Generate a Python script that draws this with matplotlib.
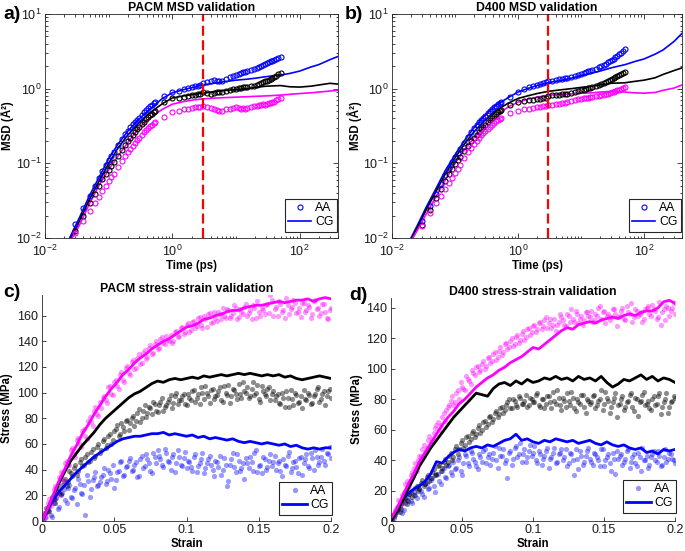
import numpy as np
import matplotlib
matplotlib.use("Agg")
import matplotlib.pyplot as plt
from matplotlib.lines import Line2D
from matplotlib.ticker import LogLocator, FixedLocator, NullFormatter, FuncFormatter

plt.rcParams['font.family'] = ['Liberation Sans', 'DejaVu Sans']
plt.rcParams['mathtext.fontset'] = 'custom'
plt.rcParams['mathtext.rm'] = 'Liberation Sans'
plt.rcParams['mathtext.it'] = 'Liberation Sans:italic'
plt.rcParams['mathtext.bf'] = 'Liberation Sans:bold'

# ==== MSD data (time in ps, MSD in A^2) ====
t_cg = [0.02, 0.025, 0.035, 0.05, 0.07, 0.1, 0.14, 0.2, 0.3, 0.45,
        0.7, 1, 1.5, 2, 3, 5, 7, 10, 15, 20,
        30, 50, 70, 100, 150, 200, 300, 400]

t_aa = [0.03, 0.04, 0.05, 0.06, 0.07, 0.08, 0.09, 0.10, 0.11, 0.12,
        0.14, 0.16, 0.18, 0.20, 0.22, 0.24, 0.26, 0.28, 0.30, 0.33,
        0.36, 0.39, 0.42, 0.45, 0.48, 0.51, 0.54, 0.75, 1.0, 1.25,
        1.5, 1.75, 2.0, 2.25, 2.5, 2.75, 3.0, 3.5, 4.0, 4.5,
        5.0, 5.5, 6.0, 7.0, 8.0, 9.0, 10, 11, 12, 13,
        14, 15, 17, 19, 21, 23, 25, 27, 29, 31,
        33, 35, 37, 40, 43, 46, 50]

# PACM (panel a)
pacm_cg_blue = [0.0068, 0.0105, 0.019, 0.037, 0.064, 0.115, 0.18, 0.27, 0.39, 0.54,
                0.74, 0.88, 0.97, 1.03, 1.12, 1.2, 1.25, 1.3, 1.34, 1.38,
                1.45, 1.52, 1.6, 1.72, 1.95, 2.1, 2.45, 2.7]
pacm_cg_black = [0.0062, 0.0095, 0.017, 0.033, 0.057, 0.1, 0.16, 0.24, 0.35, 0.48,
                 0.63, 0.75, 0.8, 0.83, 0.87, 0.92, 0.95, 0.97, 1.0, 1.04,
                 1.08, 1.1, 1.06, 1.05, 1.08, 1.12, 1.18, 1.15]
pacm_cg_magenta = [0.006, 0.009, 0.015, 0.029, 0.05, 0.082, 0.125, 0.19, 0.3, 0.41,
                   0.53, 0.62, 0.67, 0.7, 0.73, 0.75, 0.76, 0.77, 0.78, 0.79,
                   0.8, 0.82, 0.84, 0.86, 0.88, 0.9, 0.93, 0.95]
pacm_aa_blue = [0.0155, 0.025, 0.036, 0.049, 0.063, 0.078, 0.094, 0.11, 0.127, 0.144,
                0.178, 0.212, 0.245, 0.275, 0.305, 0.335, 0.36, 0.385, 0.41, 0.45,
                0.49, 0.52, 0.55, 0.58, 0.61, 0.64, 0.67, 0.8, 0.9, 0.94,
                0.98, 1.02, 1.05, 1.08, 1.1, 1.12, 1.2, 1.24, 1.28, 1.29,
                1.26, 1.25, 1.28, 1.35, 1.42, 1.48, 1.52, 1.56, 1.6, 1.65,
                1.69, 1.72, 1.78, 1.85, 1.92, 1.98, 2.03, 2.08, 2.13, 2.2,
                2.26, 2.32, 2.37, 2.44, 2.52, 2.58, 2.63]
pacm_aa_black = [0.0125, 0.02, 0.029, 0.039, 0.05, 0.061, 0.072, 0.082, 0.093, 0.104,
                 0.127, 0.15, 0.174, 0.198, 0.22, 0.243, 0.265, 0.286, 0.306, 0.335,
                 0.362, 0.39, 0.415, 0.44, 0.463, 0.485, 0.505, 0.66, 0.74, 0.76,
                 0.78, 0.8, 0.82, 0.83, 0.84, 0.85, 0.9, 0.87, 0.86, 0.88,
                 0.89, 0.9, 0.91, 0.93, 0.96, 0.98, 1.0, 1.01, 1.03, 1.04,
                 1.05, 1.06, 1.08, 1.1, 1.13, 1.16, 1.19, 1.22, 1.25, 1.28,
                 1.32, 1.36, 1.4, 1.45, 1.5, 1.55, 1.6]
pacm_aa_magenta = [0.0115, 0.0169, 0.0228, 0.029, 0.0357, 0.0426, 0.0498, 0.0573, 0.065, 0.073,
                   0.09, 0.107, 0.125, 0.14, 0.157, 0.172, 0.19, 0.205, 0.22, 0.24,
                   0.26, 0.28, 0.3, 0.315, 0.33, 0.345, 0.36, 0.42, 0.48, 0.51,
                   0.53, 0.54, 0.55, 0.56, 0.57, 0.57, 0.58, 0.57, 0.55, 0.53,
                   0.52, 0.51, 0.51, 0.53, 0.54, 0.55, 0.56, 0.55, 0.54, 0.55,
                   0.54, 0.55, 0.57, 0.59, 0.58, 0.6, 0.61, 0.62, 0.61, 0.63,
                   0.64, 0.64, 0.66, 0.67, 0.7, 0.72, 0.75]

# D400 (panel b)
d400_cg_blue = [0.01, 0.0145, 0.026, 0.046, 0.08, 0.13, 0.2, 0.3, 0.44, 0.6,
                0.76, 0.9, 1.02, 1.1, 1.2, 1.3, 1.38, 1.5, 1.62, 1.72,
                1.9, 2.1, 2.3, 2.5, 2.9, 3.3, 4.3, 5.5]
d400_cg_black = [0.0095, 0.0135, 0.024, 0.042, 0.072, 0.118, 0.18, 0.265, 0.38, 0.51,
                 0.64, 0.74, 0.81, 0.86, 0.92, 0.97, 1.0, 1.04, 1.08, 1.12,
                 1.18, 1.2, 1.25, 1.3, 1.4, 1.55, 1.75, 1.9]
d400_cg_magenta = [0.009, 0.0125, 0.021, 0.036, 0.06, 0.1, 0.15, 0.22, 0.32, 0.44,
                   0.57, 0.66, 0.73, 0.77, 0.82, 0.84, 0.85, 0.87, 0.88, 0.9,
                   0.92, 0.9, 0.88, 0.87, 0.89, 0.95, 1.02, 1.12]
d400_aa_blue = [0.017, 0.027, 0.039, 0.053, 0.069, 0.086, 0.103, 0.12, 0.137, 0.155,
                0.19, 0.225, 0.26, 0.293, 0.325, 0.355, 0.385, 0.41, 0.435, 0.47,
                0.505, 0.535, 0.565, 0.59, 0.615, 0.64, 0.66, 0.78, 0.9, 0.98,
                1.04, 1.09, 1.13, 1.17, 1.2, 1.23, 1.25, 1.28, 1.3, 1.33,
                1.35, 1.37, 1.39, 1.43, 1.48, 1.53, 1.58, 1.62, 1.67, 1.71,
                1.75, 1.79, 1.86, 1.93, 2.0, 2.08, 2.16, 2.25, 2.33, 2.42,
                2.52, 2.62, 2.72, 2.88, 3.05, 3.22, 3.4]
d400_aa_black = [0.015, 0.024, 0.034, 0.045, 0.058, 0.071, 0.084, 0.097, 0.11, 0.122,
                 0.147, 0.172, 0.197, 0.22, 0.243, 0.265, 0.287, 0.308, 0.328, 0.357,
                 0.385, 0.41, 0.435, 0.458, 0.48, 0.5, 0.52, 0.6, 0.66, 0.68,
                 0.7, 0.71, 0.72, 0.73, 0.74, 0.75, 0.8, 0.81, 0.82, 0.83,
                 0.84, 0.85, 0.86, 0.88, 0.9, 0.92, 0.95, 0.97, 0.99, 1.01,
                 1.03, 1.05, 1.08, 1.12, 1.16, 1.2, 1.24, 1.28, 1.32, 1.36,
                 1.4, 1.44, 1.48, 1.53, 1.58, 1.63, 1.68]
d400_aa_magenta = [0.0146, 0.0215, 0.029, 0.037, 0.046, 0.055, 0.064, 0.074, 0.084, 0.095,
                   0.117, 0.14, 0.16, 0.18, 0.2, 0.22, 0.24, 0.255, 0.27, 0.29,
                   0.31, 0.33, 0.35, 0.365, 0.38, 0.395, 0.41, 0.47, 0.51, 0.53,
                   0.54, 0.55, 0.56, 0.57, 0.58, 0.59, 0.6, 0.61, 0.62, 0.63,
                   0.64, 0.65, 0.66, 0.68, 0.7, 0.72, 0.73, 0.74, 0.75, 0.76,
                   0.77, 0.78, 0.79, 0.8, 0.81, 0.83, 0.84, 0.86, 0.87, 0.89,
                   0.91, 0.93, 0.95, 0.97, 1.0, 1.03, 1.06]

t_cutoff = 3.0   # red dashed line (ps)

# ==== stress-strain data (MPa) ====
strain_cg = np.linspace(0, 0.2, 51)         # CG sampled every 0.004
strain_aa = np.linspace(0.002, 0.2, 100)    # AA run 1, every 0.002
strain_aa2 = np.linspace(0.001, 0.199, 100)  # AA run 2, offset by 0.001

pacm_ss_cg_magenta = [0, 10, 21, 32, 41, 51, 59, 68, 75, 83,
                      90, 97, 103, 108, 114, 118, 123, 127, 130, 134,
                      137, 140, 142, 145, 148, 151, 152, 154, 157, 158,
                      160, 161, 163, 164, 164, 166, 167, 168, 168, 169,
                      170, 171, 170, 171, 172, 172, 173, 171, 173, 174,
                      173]
pacm_ss_cg_black = [0, 10, 20, 30, 39, 47, 53, 59, 64, 69,
                    75, 80, 84, 88, 92, 96, 99, 101, 104, 107,
                    109, 108, 110, 111, 110, 111, 112, 111, 113, 112,
                    113, 114, 113, 114, 115, 114, 115, 114, 113, 114,
                    113, 114, 112, 113, 111, 110, 111, 112, 113, 112,
                    111]
pacm_ss_cg_blue = [0, 9, 17, 23, 28, 33, 38, 42, 46, 50,
                   53, 56, 59, 62, 64, 65, 66, 66, 67, 68,
                   68, 69, 67, 68, 67, 66, 67, 65, 66, 64,
                   65, 64, 63, 64, 62, 61, 62, 61, 60, 61,
                   60, 59, 60, 58, 59, 57, 56, 57, 56, 57,
                   57]
pacm_ss_aa_magenta = [4, 14, 12, 25, 22, 34, 33, 45, 44, 55,
                      52, 63, 60, 70, 66, 78, 77, 86, 83, 93,
                      96, 94, 104, 99, 108, 105, 114, 110, 119, 115,
                      124, 118, 127, 122, 131, 126, 135, 130, 138, 134,
                      142, 139, 144, 140, 139, 147, 143, 150, 146, 153,
                      147, 155, 150, 158, 153, 160, 151, 162, 155, 158,
                      163, 157, 160, 165, 158, 162, 166, 159, 163, 167,
                      160, 164, 168, 158, 163, 166, 161, 169, 176, 160,
                      167, 171, 163, 158, 168, 165, 172, 162, 166, 170,
                      163, 168, 158, 171, 165, 160, 169, 163, 157, 166]
pacm_ss_aa_magenta2 = [6, 3, 17, 14, 27, 20, 38, 31, 47, 44,
                       57, 50, 65, 58, 72, 64, 81, 74, 89, 82,
                       88, 97, 92, 105, 98, 110, 103, 116, 108, 121,
                       114, 125, 119, 130, 123, 133, 128, 137, 131, 140,
                       135, 143, 138, 141, 145, 140, 148, 144, 151, 147,
                       154, 149, 156, 152, 159, 150, 157, 161, 154, 163,
                       156, 161, 166, 158, 164, 160, 168, 157, 165, 161,
                       169, 162, 157, 166, 171, 160, 164, 168, 162, 172,
                       165, 160, 169, 164, 174, 161, 167, 170, 163, 159,
                       170, 164, 167, 161, 172, 166, 162, 169, 158, 164]
pacm_ss_aa_black = [6, 8, 15, 17, 24, 22, 28, 33, 30, 37,
                    41, 36, 46, 43, 50, 46, 54, 49, 58, 53,
                    62, 57, 66, 60, 70, 75, 68, 73, 78, 71,
                    80, 74, 84, 77, 86, 81, 89, 83, 91, 85,
                    93, 86, 90, 95, 88, 97, 91, 94, 99, 90,
                    96, 101, 93, 99, 104, 95, 100, 92, 103, 97,
                    101, 94, 105, 98, 92, 103, 99, 107, 96, 101,
                    104, 97, 108, 100, 95, 105, 99, 103, 94, 101,
                    97, 92, 100, 89, 96, 102, 90, 98, 93, 88,
                    95, 100, 91, 97, 103, 93, 99, 90, 101, 96]
pacm_ss_aa_black2 = [3, 10, 8, 19, 14, 26, 21, 31, 27, 39,
                     35, 44, 39, 48, 44, 52, 47, 56, 51, 60,
                     55, 64, 59, 68, 63, 72, 66, 76, 70, 79,
                     76, 82, 78, 87, 80, 90, 84, 88, 93, 86,
                     90, 96, 89, 93, 98, 92, 100, 94, 97, 91,
                     99, 94, 102, 96, 91, 100, 105, 97, 102, 95,
                     98, 104, 93, 100, 106, 97, 102, 95, 99, 108,
                     100, 96, 103, 98, 106, 93, 101, 97, 104, 99,
                     94, 99, 91, 96, 101, 89, 95, 100, 92, 97,
                     102, 94, 98, 92, 99, 104, 95, 101, 97, 103]
pacm_ss_aa_blue = [2, 9, 5, 14, 18, 11, 22, 16, 26, 19,
                   24, 13, 29, 21, 5, 31, 25, 34, 27, 30,
                   36, 29, 40, 33, 26, 38, 46, 35, 42, 47,
                   39, 44, 34, 48, 41, 52, 45, 37, 50, 55,
                   48, 42, 53, 46, 50, 38, 55, 44, 49, 41,
                   46, 39, 52, 43, 48, 37, 45, 51, 40, 47,
                   42, 36, 49, 27, 44, 53, 38, 47, 41, 33,
                   45, 50, 39, 55, 43, 37, 48, 42, 52, 46,
                   40, 47, 35, 44, 51, 38, 46, 42, 49, 36,
                   48, 43, 53, 40, 50, 46, 56, 44, 52, 49]
pacm_ss_aa_blue2 = [0, 6, 12, 3, 17, 9, 20, 25, 14, 28,
                    18, 26, 33, 22, 28, 36, 19, 32, 38, 28,
                    34, 41, 31, 37, 44, 32, 39, 47, 36, 43,
                    49, 40, 46, 35, 51, 43, 48, 39, 53, 45,
                    51, 44, 56, 47, 40, 52, 45, 50, 43, 54,
                    47, 42, 50, 38, 45, 53, 41, 48, 44, 35,
                    46, 51, 40, 44, 31, 48, 42, 52, 39, 45,
                    49, 41, 46, 53, 38, 44, 50, 40, 47, 43,
                    51, 45, 39, 48, 43, 54, 41, 47, 37, 50,
                    45, 52, 41, 49, 55, 44, 50, 47, 53, 58]

d400_ss_cg_magenta = [2, 8, 16, 24, 31, 39, 45, 51, 57, 63,
                      68, 72, 77, 80, 84, 88, 91, 94, 96, 99,
                      101, 104, 106, 108, 111, 114, 113, 116, 119, 122,
                      125, 127, 126, 129, 130, 131, 130, 132, 133, 134,
                      133, 135, 136, 135, 137, 138, 138, 140, 144, 145,
                      143]
d400_ss_cg_black = [0, 6, 13, 21, 28, 36, 42, 48, 53, 58,
                    63, 68, 72, 76, 80, 84, 83, 82, 87, 90,
                    91, 89, 92, 90, 93, 91, 92, 94, 93, 95,
                    93, 94, 92, 95, 93, 94, 92, 95, 91, 88,
                    90, 93, 92, 94, 96, 93, 95, 92, 94, 93,
                    91]
d400_ss_cg_blue = [0, 8, 14, 18, 21, 23, 26, 31, 39, 38,
                   42, 45, 47, 46, 48, 49, 48, 50, 49, 51,
                   53, 54, 57, 53, 54, 52, 51, 53, 52, 54,
                   53, 52, 53, 51, 52, 53, 51, 50, 52, 50,
                   49, 50, 48, 47, 48, 45, 46, 44, 47, 46,
                   47]
d400_ss_aa_magenta = [4, 9, 12, 17, 24, 21, 30, 35, 33, 43,
                      47, 45, 53, 51, 58, 63, 60, 68, 66, 75,
                      79, 76, 84, 80, 88, 86, 93, 90, 97, 101,
                      98, 103, 100, 107, 104, 110, 106, 112, 109, 116,
                      113, 118, 115, 121, 117, 123, 119, 126, 122, 128,
                      124, 130, 126, 132, 127, 133, 129, 125, 131, 134,
                      129, 136, 131, 133, 138, 130, 135, 132, 137, 134,
                      131, 136, 140, 133, 138, 135, 132, 139, 136, 134,
                      138, 133, 141, 136, 131, 139, 135, 137, 133, 140,
                      136, 142, 138, 134, 129, 139, 141, 135, 140, 136]
d400_ss_aa_magenta2 = [2, 7, 14, 11, 19, 26, 23, 32, 38, 40,
                       43, 50, 48, 56, 54, 61, 65, 63, 71, 73,
                       76, 82, 78, 86, 91, 87, 95, 92, 99, 96,
                       102, 99, 105, 102, 108, 105, 111, 108, 114, 111,
                       117, 114, 120, 116, 122, 119, 125, 121, 127, 124,
                       129, 126, 131, 128, 134, 130, 127, 133, 129, 136,
                       132, 128, 135, 139, 131, 136, 133, 129, 137, 135,
                       138, 132, 135, 141, 137, 130, 136, 134, 139, 128,
                       135, 140, 132, 137, 143, 134, 138, 136, 131, 139,
                       141, 135, 139, 133, 144, 137, 132, 140, 138, 143]
d400_ss_aa_black = [3, 7, 6, 12, 15, 13, 19, 17, 23, 21,
                    27, 24, 30, 28, 34, 31, 37, 35, 41, 39,
                    45, 42, 49, 47, 53, 50, 56, 54, 59, 57,
                    63, 60, 66, 64, 69, 67, 72, 70, 75, 73,
                    78, 74, 80, 76, 82, 77, 79, 75, 81, 78,
                    83, 76, 80, 74, 82, 78, 85, 77, 81, 73,
                    79, 84, 76, 81, 72, 78, 83, 75, 80, 77,
                    82, 74, 79, 86, 77, 81, 71, 78, 84, 76,
                    80, 73, 78, 83, 75, 81, 69, 79, 85, 77,
                    74, 80, 76, 82, 70, 78, 84, 75, 79, 81]
d400_ss_aa_black2 = [1, 5, 9, 8, 14, 11, 18, 16, 22, 20,
                     25, 23, 29, 26, 32, 30, 36, 33, 39, 37,
                     43, 40, 47, 44, 51, 48, 55, 52, 58, 55,
                     61, 58, 65, 62, 68, 65, 71, 68, 74, 71,
                     76, 80, 74, 79, 75, 81, 77, 83, 76, 80,
                     78, 84, 75, 80, 77, 82, 74, 79, 86, 76,
                     81, 75, 79, 85, 74, 80, 77, 83, 71, 79,
                     78, 83, 76, 80, 73, 85, 79, 75, 81, 68,
                     77, 82, 75, 79, 84, 72, 80, 78, 83, 76,
                     79, 73, 82, 77, 84, 75, 80, 71, 78, 82]
d400_ss_aa_blue = [2, 6, 9, 5, 12, 16, 13, 19, 15, 21,
                   18, 24, 21, 27, 23, 30, 26, 33, 29, 36,
                   32, 39, 35, 42, 30, 44, 38, 46, 41, 36,
                   44, 39, 47, 42, 37, 45, 40, 48, 43, 38,
                   28, 46, 41, 49, 44, 39, 47, 42, 50, 45,
                   40, 46, 37, 43, 48, 41, 45, 38, 44, 47,
                   42, 36, 45, 40, 47, 34, 43, 39, 46, 41,
                   37, 44, 40, 47, 36, 42, 38, 45, 31, 41,
                   44, 39, 46, 35, 42, 38, 45, 33, 40, 43,
                   37, 44, 40, 46, 36, 42, 39, 45, 41, 38]
d400_ss_aa_blue2 = [0, 4, 8, 11, 7, 14, 18, 12, 17, 23,
                    20, 16, 25, 22, 28, 19, 31, 24, 35, 28,
                    37, 30, 34, 40, 33, 38, 43, 36, 45, 39,
                    34, 42, 46, 38, 44, 41, 49, 35, 43, 47,
                    40, 45, 37, 48, 42, 51, 44, 39, 46, 43,
                    49, 38, 44, 41, 46, 35, 42, 48, 39, 45,
                    40, 47, 38, 44, 30, 41, 46, 37, 43, 48,
                    39, 45, 42, 36, 47, 40, 44, 33, 41, 46,
                    43, 37, 41, 47, 39, 44, 36, 42, 48, 40,
                    35, 42, 46, 39, 43, 37, 47, 41, 44, 40]

# ==== style ====
BLUE, BLACK, MAGENTA = '#0000ff', '#000000', '#ff00ff'
AXC = '#262626'
TICK_FS, LABEL_FS, TITLE_FS, LEG_FS = 9, 8.3, 8.8, 8.8

fig = plt.figure(figsize=(6.85, 5.51), dpi=100)
W, H = 685, 551


def add_axes_px(left, top, right, bottom):
    return fig.add_axes([left / W, 1 - bottom / H, (right - left) / W, (bottom - top) / H])


def style_common(ax):
    for s in ax.spines.values():
        s.set_color(AXC)
        s.set_linewidth(0.6)
    ax.tick_params(which='both', direction='in', colors=AXC, labelsize=TICK_FS,
                   width=0.6, labelcolor='#1a1a1a')
    ax.tick_params(which='major', length=3.5)
    ax.tick_params(which='minor', length=1.8)


# -----------------------------------------------------
# MSD panels
# -----------------------------------------------------
def msd_panel(ax, title, cg, aa, ylab_x):
    for vals, col in zip(cg, [BLUE, BLACK, MAGENTA]):
        ax.plot(t_cg, vals, color=col, lw=1.2)
    for vals, col in zip(aa, [BLUE, BLACK, MAGENTA]):
        ax.plot(t_aa, vals, 'o', mfc='none', mec=col, ms=3.6, mew=0.8)
    ax.axvline(t_cutoff, color='#ff0000', lw=1.6, ls=(0, (4.5, 2)))
    ax.set_xscale('log')
    ax.set_yscale('log')
    ax.set_xlim(0.01, 400)
    ax.set_ylim(0.01, 10)
    ax.xaxis.set_major_locator(FixedLocator([1e-2, 1e0, 1e2]))
    ax.xaxis.set_minor_locator(LogLocator(base=10, subs=np.arange(1, 10), numticks=30))
    ax.xaxis.set_minor_formatter(NullFormatter())
    ax.yaxis.set_major_locator(LogLocator(base=10, numticks=10))
    ax.yaxis.set_minor_locator(LogLocator(base=10, subs=np.arange(2, 10), numticks=30))
    ax.yaxis.set_minor_formatter(NullFormatter())
    style_common(ax)
    ax.tick_params(which='both', top=True, right=True, pad=2.5)
    ax.tick_params(axis='x', which='major', pad=4.5)
    ax.set_title(title, fontsize=TITLE_FS, fontweight='bold', pad=1.5)
    ax.set_xlabel('Time (ps)', fontsize=LABEL_FS, fontweight='bold')
    ax.set_ylabel('MSD (Å²)', fontsize=LABEL_FS, fontweight='bold')
    ax.xaxis.set_label_coords(0.5, -0.1)
    ax.yaxis.set_label_coords(ylab_x, 0.5)
    handles = [Line2D([], [], ls='none', marker='o', mfc='none', mec=BLUE, ms=3.6, mew=0.8),
               Line2D([], [], color=BLUE, lw=1.2)]
    leg = ax.legend(handles, ['AA', 'CG'], loc='lower right', bbox_to_anchor=(0.997, 0.027),
                    borderaxespad=0, fancybox=False, edgecolor=AXC, framealpha=1,
                    fontsize=LEG_FS, handlelength=1.9, handletextpad=0.3,
                    borderpad=0.3, labelspacing=0.15)
    leg.get_frame().set_linewidth(0.8)


ax_a = add_axes_px(45, 14, 338, 238)
msd_panel(ax_a, 'PACM MSD validation',
          [pacm_cg_blue, pacm_cg_black, pacm_cg_magenta],
          [pacm_aa_blue, pacm_aa_black, pacm_aa_magenta], -0.105)

ax_b = add_axes_px(392, 14, 682, 238)
msd_panel(ax_b, 'D400 MSD validation',
          [d400_cg_blue, d400_cg_black, d400_cg_magenta],
          [d400_aa_blue, d400_aa_black, d400_aa_magenta], -0.105)


# -----------------------------------------------------
# stress-strain panels
# -----------------------------------------------------
def ss_panel(ax, title, cg, aa, aa2, ymax, yticks, leg_y):
    for v1, v2, col, al in zip(aa, aa2, [BLUE, BLACK, MAGENTA], [0.4, 0.45, 0.4]):
        ax.scatter(strain_aa, v1, s=14, color=col, alpha=al, linewidths=0)
        ax.scatter(strain_aa2, v2, s=14, color=col, alpha=al, linewidths=0)
    for vals, col in zip(cg, [BLUE, BLACK, MAGENTA]):
        ax.plot(strain_cg, vals, color=col, lw=2.0)
    ax.set_xlim(0, 0.2)
    ax.set_ylim(0, ymax)
    ax.set_xticks([0, 0.05, 0.1, 0.15, 0.2])
    ax.xaxis.set_major_formatter(FuncFormatter(lambda v, p: f"{v:g}"))
    ax.set_yticks(yticks)
    ax.spines['top'].set_visible(False)
    ax.spines['right'].set_visible(False)
    style_common(ax)
    ax.tick_params(which='major', length=3, pad=2.5)
    ax.set_title(title, fontsize=TITLE_FS, fontweight='bold', pad=2.5)
    ax.set_xlabel('Strain', fontsize=LABEL_FS, fontweight='bold')
    ax.set_ylabel('Stress (MPa)', fontsize=LABEL_FS, fontweight='bold')
    ax.xaxis.set_label_coords(0.5, -0.075)
    ax.yaxis.set_label_coords(-0.1, 0.5)
    handles = [Line2D([], [], ls='none', marker='o', color=BLUE, alpha=0.42, ms=3.8, mec='none'),
               Line2D([], [], color=BLUE, lw=2.0)]
    leg = ax.legend(handles, ['AA', 'CG'], loc='lower right', bbox_to_anchor=(1.005, leg_y),
                    borderaxespad=0, fancybox=False, edgecolor=AXC, framealpha=1,
                    fontsize=LEG_FS, handlelength=2.0, handletextpad=0.3,
                    borderpad=0.3, labelspacing=0.15)
    leg.get_frame().set_linewidth(0.8)


ax_c = add_axes_px(42, 295, 331, 521)
ss_panel(ax_c, 'PACM stress-strain validation',
         [pacm_ss_cg_blue, pacm_ss_cg_black, pacm_ss_cg_magenta],
         [pacm_ss_aa_blue, pacm_ss_aa_black, pacm_ss_aa_magenta],
         [pacm_ss_aa_blue2, pacm_ss_aa_black2, pacm_ss_aa_magenta2],
         176, range(0, 161, 20), 0.027)

ax_d = add_axes_px(391, 298, 675, 521)
ss_panel(ax_d, 'D400 stress-strain validation',
         [d400_ss_cg_blue, d400_ss_cg_black, d400_ss_cg_magenta],
         [d400_ss_aa_blue, d400_ss_aa_black, d400_ss_aa_magenta],
         [d400_ss_aa_blue2, d400_ss_aa_black2, d400_ss_aa_magenta2],
         146.5, range(0, 141, 20), 0.036)

# panel letters
for txt, x, y in [('a)', 3, 19), ('b)', 345, 19), ('c)', 3, 297), ('d)', 349, 300)]:
    fig.text(x / W, 1 - y / H, txt, fontsize=14, fontweight='bold', va='baseline', ha='left')

fig.savefig('out.png', dpi=100)
